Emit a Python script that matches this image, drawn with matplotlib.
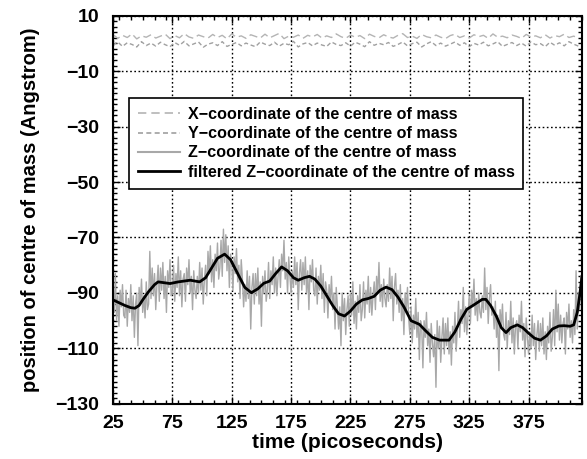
import matplotlib
matplotlib.use('Agg')
import matplotlib.pyplot as plt
from matplotlib.lines import Line2D
from matplotlib.ticker import MultipleLocator
import numpy as np

plt.rcParams.update({
    'font.family': ['Liberation Sans', 'DejaVu Sans'],
    'font.weight': 'bold',
    'axes.linewidth': 1.5,
})

# --- data -----------------------------------------------------------------
# raw Z coordinate, one value per ps from 25 ps to 419 ps
Z_T0, Z_DT = 25, 1
Z_RAW = [
    -88, -97, -83, -100, -91, -102, -89, -95, -87, -98,
    -99, -89, -102, -92, -97, -87, -100, -91, -106, -94,
    -90, -109, -88, -94, -85, -97, -91, -99, -86, -96,
    -94, -75, -92, -81, -91, -83, -96, -87, -80, -93,
    -81, -89, -79, -92, -84, -97, -82, -88, -78, -91,
    -90, -80, -93, -83, -88, -77, -91, -82, -95, -85,
    -83, -93, -81, -87, -78, -90, -84, -96, -82, -89,
    -92, -84, -90, -79, -89, -81, -94, -85, -80, -91,
    -75, -83, -73, -86, -78, -88, -76, -82, -72, -85,
    -81, -71, -84, -67, -79, -69, -82, -73, -88, -76,
    -79, -89, -77, -83, -74, -86, -80, -92, -78, -85,
    -95, -87, -93, -82, -92, -84, -103, -88, -83, -94,
    -83, -91, -81, -94, -86, -102, -84, -90, -82, -93,
    -89, -79, -92, -82, -87, -77, -90, -81, -91, -84,
    -78, -88, -76, -82, -71, -85, -79, -90, -77, -84,
    -90, -82, -88, -77, -87, -79, -96, -83, -78, -89,
    -79, -87, -77, -90, -82, -96, -80, -86, -78, -89,
    -91, -81, -94, -84, -89, -80, -92, -83, -97, -86,
    -89, -99, -87, -93, -84, -96, -90, -103, -88, -95,
    -103, -95, -109, -90, -100, -92, -105, -96, -91, -102,
    -90, -98, -86, -101, -93, -103, -91, -97, -87, -100,
    -96, -86, -99, -89, -94, -84, -97, -88, -98, -91,
    -86, -96, -84, -90, -79, -93, -87, -95, -85, -92,
    -95, -87, -93, -81, -92, -84, -100, -88, -83, -94,
    -89, -97, -87, -100, -92, -105, -90, -96, -88, -99,
    -105, -95, -108, -98, -103, -92, -106, -97, -114, -100,
    -102, -117, -100, -106, -97, -109, -103, -115, -101, -108,
    -113, -105, -124, -100, -110, -102, -115, -106, -99, -112,
    -101, -109, -99, -112, -104, -116, -102, -108, -97, -111,
    -103, -93, -106, -96, -101, -88, -104, -95, -105, -98,
    -91, -101, -89, -95, -85, -98, -92, -100, -90, -97,
    -99, -91, -97, -81, -96, -88, -101, -92, -87, -98,
    -95, -103, -93, -106, -98, -118, -96, -102, -94, -105,
    -107, -97, -110, -100, -105, -93, -108, -99, -112, -102,
    -100, -110, -98, -104, -93, -107, -101, -113, -99, -106,
    -112, -104, -110, -98, -109, -101, -114, -105, -100, -111,
    -101, -109, -99, -112, -104, -114, -102, -108, -97, -111,
    -106, -96, -109, -89, -104, -94, -107, -98, -108, -101,
    -99, -112, -97, -103, -94, -106, -100, -108, -96, -105,
    -82, -103, -90, -96, -84,
]

# X and Y coordinates, sampled every 4 ps from 25 ps
XY_T0, XY_DT = 25, 4
X_RAW = [
    3.2, 1.8, 2.9, 2.1, 3.4, 1.6, 2.7, 2.2, 3.1, 1.9,
    2.6, 3.3, 1.7, 2.8, 2.0, 3.5, 2.3, 1.8, 3.0, 2.4,
    1.9, 3.2, 2.1, 2.9, 1.6, 3.4, 2.2, 2.7, 1.8, 3.1,
    2.5, 1.9, 3.3, 2.0, 2.8, 3.6, 1.7, 2.6, 2.2, 3.0,
    1.8, 2.9, 2.3, 3.2, 1.9, 2.7, 2.1, 3.4, 2.4, 1.8,
    3.0, 2.2, 2.8, 1.7, 3.3, 2.5, 2.0, 3.1, 2.3, 1.9,
    2.9, 3.5, 2.1, 2.6, 1.8, 3.2, 2.4, 2.0, 3.0, 2.2,
    1.7, 2.8, 3.3, 2.1, 2.7, 1.9, 3.1, 2.4, 2.9, 1.8,
    3.4, 2.2, 2.6, 2.0, 3.0, 2.5, 1.8, 3.2, 2.3, 2.7,
    2.0, 3.1, 1.9, 2.8, 2.4, 3.3, 2.1, 2.6, 1.9,
]
Y_RAW = [
    -0.6, 0.5, -1.1, 0.2, -0.4, -1.3, 0.6, -0.8, 0.1, -1.0,
    0.4, -0.5, -1.2, 0.3, -0.7, 0.7, -0.9, -0.2, 0.5, -1.4,
    -0.3, 0.2, -0.8, 0.6, -1.1, -0.4, 0.3, -0.9, 0.1, -0.6,
    -1.2, 0.5, -0.3, -0.8, 0.4, -1.0, 0.0, -0.5, 0.7, -1.3,
    -0.2, 0.3, -0.9, 0.1, -0.6, -1.1, 0.5, -0.4, -0.8, 0.2,
    -1.0, 0.4, -0.3, -1.2, 0.6, -0.7, 0.0, -0.5, 0.3, -1.1,
    -0.4, 0.5, -0.9, -0.1, 0.4, -1.3, -0.2, 0.6, -0.8, 0.1,
    -1.0, -0.3, 0.5, -0.7, 0.2, -1.2, 0.0, -0.6, 0.4, -0.9,
    -0.2, 0.6, -1.1, -0.4, 0.3, -0.8, 0.1, -1.0, 0.5, -0.5,
    -0.1, -1.2, 0.4, -0.7, 0.2, -0.9, 0.6, -0.3, -1.0,
]

# filtered Z coordinate
F_T = [25, 30, 35, 40, 43.5, 47, 50, 55, 60, 63, 68, 73, 80, 90, 98, 103,
       108, 113, 119, 124, 130, 136, 141.5, 147, 152, 157, 162, 167, 172,
       177, 181, 186, 190.5, 195, 200, 205, 210, 215, 220, 225, 230, 235,
       240, 245, 250, 255, 260, 265, 270, 276, 283, 288, 294, 300, 308,
       313, 318, 323, 330, 336, 339, 343, 348, 352, 356, 360, 365.5, 370,
       375, 380, 385, 390, 395, 400.5, 405, 410, 413, 416, 418, 420]
F_Z = [-92.5, -93.5, -94.5, -95.3, -95.5, -94.5, -92.5, -89.5, -87, -86,
       -86.3, -86.6, -86, -85.4, -86, -84.5, -81, -77.5, -76, -78, -83,
       -88, -89.9, -88.5, -86.5, -85.7, -83, -80.6, -82, -84.5, -85.4,
       -84.5, -84, -85, -87.5, -91, -94.5, -97.5, -98.3, -96.5, -94,
       -92.5, -92, -91.2, -89, -87.9, -88.8, -91.5, -95, -100, -101.3,
       -103.5, -106, -107, -107, -104, -99.5, -95.9, -94, -92.3, -92.3,
       -94.5, -98.5, -102.5, -104.3, -102.5, -101.5, -102.5, -104.5,
       -106.3, -107, -105.5, -103, -101.9, -101.8, -102, -101.5, -97,
       -91, -84]

LEGEND_LABELS = [
    'X\u2212coordinate of the centre of mass',
    'Y\u2212coordinate of the centre of mass',
    'Z\u2212coordinate of the centre of mass',
    'filtered Z\u2212coordinate of the centre of mass',
]

z_t = Z_T0 + Z_DT * np.arange(len(Z_RAW))
xy_t = XY_T0 + XY_DT * np.arange(len(X_RAW))

fig = plt.figure(figsize=(5.87, 4.59), dpi=100)
ax = fig.add_axes([0.1925, 0.12, 0.799, 0.846])

gray = '#a8a8a8'
ax.plot(xy_t, X_RAW, color='#b4b4b4', lw=1.0, ls=(0, (6, 3)))
ax.plot(xy_t, Y_RAW, color='#a0a0a0', lw=1.0, ls=(0, (3, 2)))
ax.plot(z_t, Z_RAW, color=gray, lw=1.0)
ax.plot(F_T, F_Z, color='black', lw=2.0)

ax.set_xlim(25, 420)
ax.set_ylim(-130, 10)
ax.xaxis.set_minor_locator(MultipleLocator(10))
ax.yaxis.set_minor_locator(MultipleLocator(2))
ax.set_xticks(np.arange(25, 400, 50))
ax.set_yticks(np.arange(-130, 11, 20))

ax.tick_params(which='both', direction='in', top=True, right=True,
               labelsize=14, width=1.0)
ax.tick_params(which='major', length=5)
ax.tick_params(which='minor', length=3)
ax.tick_params(axis='y', which='major', pad=10)
ax.tick_params(axis='x', which='major', pad=8)
for lab in ax.get_xticklabels() + ax.get_yticklabels():
    lab.set_fontweight('bold')

ax.grid(True, which='major', color='black', ls=(0, (1.2, 1.8)), lw=1.0)

ax.set_xlabel('time (picoseconds)', fontsize=15, fontweight='bold',
              labelpad=1)
ax.set_ylabel('position of centre of mass (Angstrom)', fontsize=14.5,
              fontweight='bold', labelpad=11)

handles = [
    Line2D([], [], color='#b4b4b4', lw=1.2, ls=(0, (5, 3))),
    Line2D([], [], color='#a0a0a0', lw=1.2, ls=(0, (3, 2))),
    Line2D([], [], color=gray, lw=1.5),
    Line2D([], [], color='black', lw=2.0),
]
leg = ax.legend(handles, LEGEND_LABELS, loc='upper left',
                bbox_to_anchor=(0.034, 0.788), fontsize=11.6, frameon=True,
                fancybox=False, edgecolor='black', framealpha=1,
                borderaxespad=0, handlelength=2.6, handletextpad=0.5,
                labelspacing=0.27, borderpad=0.55)
leg.get_frame().set_linewidth(1.2)
for txt in leg.get_texts():
    txt.set_fontweight('bold')

fig.savefig('out.png', dpi=100)
